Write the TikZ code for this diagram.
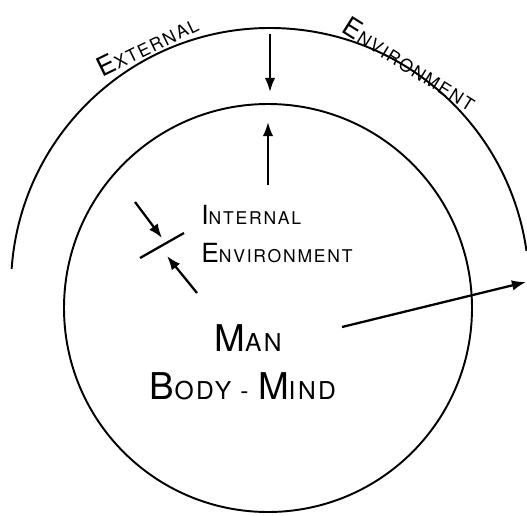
\documentclass[tikz,border=0pt]{standalone}
\usepackage{fontspec}
\usepackage{tikz}
\usetikzlibrary{arrows.meta,positioning}

\newfontfamily\handfont{TeX Gyre Heros}[LetterSpace=10]

% hand-lettered small caps: big initial, smaller rest
\newcommand{\hcap}[2]{{\fontsize{15}{17}\selectfont #1}{\fontsize{10}{12}\selectfont #2}}
\newcommand{\hcapbig}[2]{{\fontsize{21}{23}\selectfont #1}{\fontsize{14}{16}\selectfont #2}}

\begin{document}
\begin{tikzpicture}[
  x=0.02cm, y=0.02cm,
  ring/.style={line width=1.1pt},
  arr/.style={-{Latex[length=8pt,width=6pt]}, line width=1.3pt},
  tick/.style={line width=1.3pt},
  hand/.style={font=\handfont, inner sep=0pt}
]
\useasboundingbox (0,0) rectangle (527,515);

% Man (body-mind)
\coordinate (mc) at (268,207);
\draw[ring] (mc) circle[radius=204];

% External environment
\coordinate (ec) at (270,228);
\draw[ring] (ec) ++(176:259) arc[start angle=176, end angle=8, radius=259];

% Labels
\node[hand, rotate=26]  (ext)    at (147,470) {\hcap{E}{XTERNAL}};
\node[hand, rotate=-32] (env)    at (410,451) {\hcap{E}{NVIRONMENT}};
\node[hand, anchor=west] (int)    at (201,300) {\hcap{I}{NTERNAL}};
\node[hand, anchor=west] (intenv) at (201,262) {\hcap{E}{NVIRONMENT}};
\node[hand] (man)  at (248,177) {\hcapbig{M}{AN}};
\node[hand] (bm)   at (243,129) {\hcapbig{B}{ODY}{\fontsize{14}{16}\selectfont\ -\ }\hcapbig{M}{IND}};

% Arrow ends
\coordinate (down1) at (270,481);
\coordinate (down2) at (270,423);
\coordinate (up1)   at (268,330);
\coordinate (up2)   at (268,393);
\coordinate (sl1)   at (140,257);
\coordinate (sl2)   at (184,282);
\coordinate (ia1)   at (135,313);
\coordinate (ia2)   at (162,277);
\coordinate (ib1)   at (197,222);
\coordinate (ib2)   at (167,259);
\coordinate (out1)  at (342,188);
\coordinate (out2)  at (526,233);

% Arrows
\draw[arr] (down1) -- (down2);
\draw[arr] (up1)   -- (up2);
\draw[tick] (sl1)  -- (sl2);
\draw[arr] (ia1)   -- (ia2);
\draw[arr] (ib1)   -- (ib2);
\draw[arr] (out1)  -- (out2);

\end{tikzpicture}
\end{document}
